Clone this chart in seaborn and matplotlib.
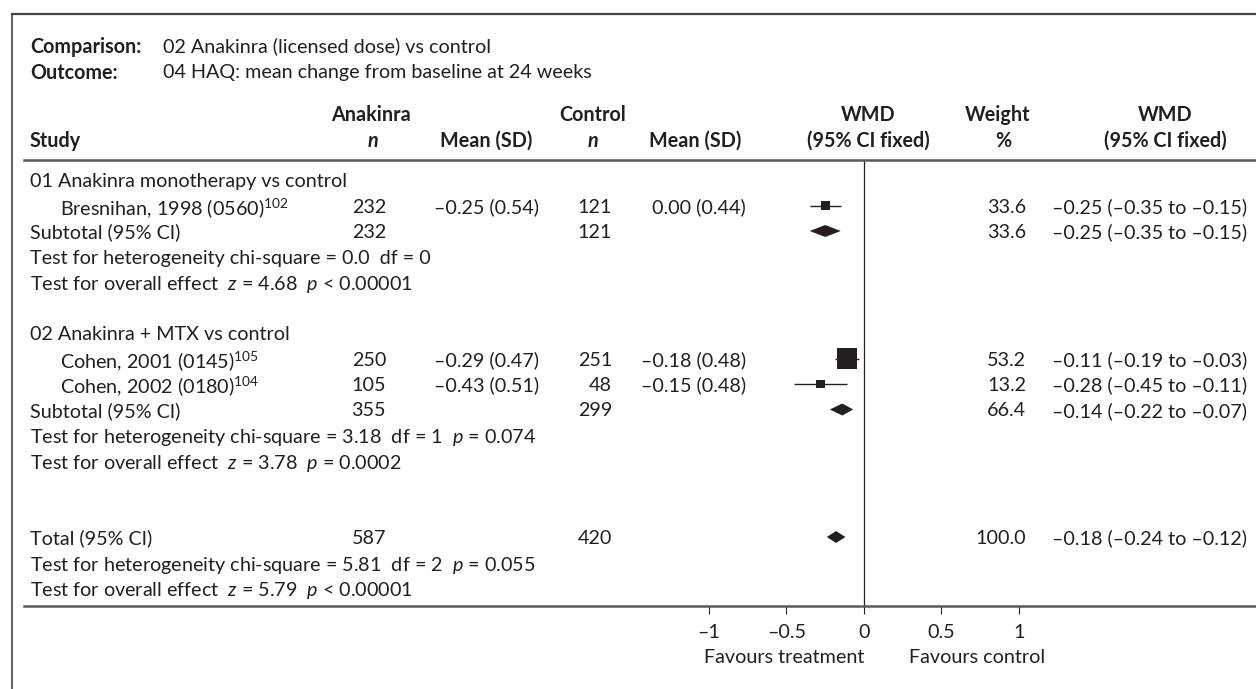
import matplotlib.pyplot as plt
import matplotlib.transforms as mtransforms
from matplotlib.lines import Line2D
import pandas as pd
import seaborn as sns

# ---- data -------------------------------------------------------------
comparison = "02 Anakinra (licensed dose) vs control"
outcome = "04 HAQ: mean change from baseline at 24 weeks"

groups = ["01 Anakinra monotherapy vs control", "02 Anakinra + MTX vs control"]
study_names = ["Bresnihan, 1998 (0560)", "Cohen, 2001 (0145)", "Cohen, 2002 (0180)"]
study_refs = ["102", "105", "104"]
study_group = [0, 1, 1]
n_anakinra = [232, 250, 105]
mean_anakinra = [-0.25, -0.29, -0.43]
sd_anakinra = [0.54, 0.47, 0.51]
n_control = [121, 251, 48]
mean_control = [0.00, -0.18, -0.15]
sd_control = [0.44, 0.48, 0.48]
weight = [33.6, 53.2, 13.2]
wmd = [-0.25, -0.11, -0.28]
wmd_lo = [-0.35, -0.19, -0.45]
wmd_hi = [-0.15, -0.03, -0.11]

sub_n_anakinra = [232, 355]
sub_n_control = [121, 299]
sub_weight = [33.6, 66.4]
sub_wmd = [-0.25, -0.14]
sub_lo = [-0.35, -0.22]
sub_hi = [-0.15, -0.07]
sub_het = ["chi-square = 0.0  df = 0", "chi-square = 3.18  df = 1  $p$ = 0.074"]
sub_effect = ["$z$ = 4.68  $p$ < 0.00001", "$z$ = 3.78  $p$ = 0.0002"]

total_n_anakinra = 587
total_n_control = 420
total_weight = 100.0
total_wmd = -0.18
total_lo = -0.24
total_hi = -0.12
total_het = "chi-square = 5.81  df = 2  $p$ = 0.055"
total_effect = "$z$ = 5.79  $p$ < 0.00001"

axis_ticks = [-1, -0.5, 0, 0.5, 1]

# ---- layout / style ---------------------------------------------------
W, H, DPI = 1256, 689, 100
ROW0, ROW_STEP = 180, 25.5
TOP_RULE, BOTTOM_RULE = 160, 606
ZERO_X, UNIT = 864, 155
RULE_X0 = 24
ink = "#231f20"
rule = "#5b5b5b"
fs = 14.2
box_area = [42, 225, 37]
diamond_half = 0.235

sns.set_theme(style="white")
plt.rcParams["font.family"] = ["Lato", "DejaVu Sans"]
plt.rcParams["mathtext.fontset"] = "custom"
plt.rcParams["mathtext.rm"] = "Lato"
plt.rcParams["mathtext.it"] = "Lato:italic"
plt.rcParams["mathtext.bf"] = "Lato:bold"


def num(v):
    return f"{v:.2f}".replace("-", "\u2013")


def ci(e, lo, hi):
    return f"{num(e)} ({num(lo)} to {num(hi)})"


fig = plt.figure(figsize=(W / DPI, H / DPI), dpi=DPI, facecolor="white")
fa = fig.add_axes([RULE_X0 / W, 1 - BOTTOM_RULE / H,
                   (W - RULE_X0) / W, (BOTTOM_RULE - TOP_RULE) / H])
fa.set_xlim((RULE_X0 - ZERO_X) / UNIT, (W - ZERO_X) / UNIT)
fa.set_ylim((BOTTOM_RULE - ROW0) / ROW_STEP, (TOP_RULE - ROW0) / ROW_STEP)
fa.patch.set_alpha(0)

trow = mtransforms.blended_transform_factory(fig.transFigure, fa.transData)


def cell(x, row, s, ha="left", **kw):
    fa.text(x / W, row, s, transform=trow, ha=ha, va="center_baseline",
            fontsize=fs, color=ink, clip_on=False, **kw)


def head(x, y, s, ha="left", **kw):
    fig.text(x / W, 1 - y / H, s, ha=ha, va="center_baseline",
             fontsize=fs, color=ink, **kw)


# frame
fig.add_artist(Line2D([12 / W, 1], [1 - 14 / H] * 2, color="#444444", lw=1.6))
fig.add_artist(Line2D([12 / W] * 2, [1 - 14 / H, 0], color="#444444", lw=1.2))

# header
head(30, 45, "Comparison:", fontweight="bold")
head(163, 45, comparison)
head(30, 71, "Outcome:", fontweight="bold")
head(163, 71, outcome)
head(371, 113, "Anakinra", ha="center", fontweight="bold")
head(593, 113, "Control", ha="center", fontweight="bold")
head(868, 113, "WMD", ha="center", fontweight="bold")
head(998, 113, "Weight", ha="center", fontweight="bold")
head(1165, 113, "WMD", ha="center", fontweight="bold")
head(30, 139, "Study", fontweight="bold")
head(373, 139, "n", ha="center", fontweight="bold", fontstyle="italic")
head(486, 139, "Mean (SD)", ha="center", fontweight="bold")
head(593, 139, "n", ha="center", fontweight="bold", fontstyle="italic")
head(695, 139, "Mean (SD)", ha="center", fontweight="bold")
head(868, 139, "(95% CI fixed)", ha="center", fontweight="bold")
head(1003, 139, "%", ha="center", fontweight="bold")
head(1165, 139, "(95% CI fixed)", ha="center", fontweight="bold")

# rows
layout = []
for g in range(len(groups)):
    layout.append(("group", g))
    layout += [("study", i) for i, sg in enumerate(study_group) if sg == g]
    layout += [("subtotal", g), ("het", g), ("effect", g), ("blank", None)]
layout += [("blank", None), ("total", None), ("total_het", None), ("total_effect", None)]

study_rows = [0] * len(study_names)
sub_rows = [0] * len(groups)
total_row = 0
for r, (kind, i) in enumerate(layout):
    if kind == "group":
        cell(30, r, groups[i])
    elif kind == "study":
        study_rows[i] = r
        cell(60, r, study_names[i] + r"$^{\mathrm{" + study_refs[i] + "}}$")
        cell(386, r, f"{n_anakinra[i]}", ha="right")
        cell(487, r, f"{num(mean_anakinra[i])} ({sd_anakinra[i]:.2f})", ha="center")
        cell(612, r, f"{n_control[i]}", ha="right")
        cell(746, r, f"{num(mean_control[i])} ({sd_control[i]:.2f})", ha="right")
        cell(1026, r, f"{weight[i]:.1f}", ha="right")
        cell(1052, r, ci(wmd[i], wmd_lo[i], wmd_hi[i]))
    elif kind == "subtotal":
        sub_rows[i] = r
        cell(30, r, "Subtotal (95% CI)")
        cell(386, r, f"{sub_n_anakinra[i]}", ha="right")
        cell(612, r, f"{sub_n_control[i]}", ha="right")
        cell(1026, r, f"{sub_weight[i]:.1f}", ha="right")
        cell(1052, r, ci(sub_wmd[i], sub_lo[i], sub_hi[i]))
    elif kind == "het":
        cell(30, r, "Test for heterogeneity " + sub_het[i])
    elif kind == "effect":
        cell(30, r, "Test for overall effect  " + sub_effect[i])
    elif kind == "total":
        total_row = r
        cell(30, r, "Total (95% CI)")
        cell(386, r, f"{total_n_anakinra}", ha="right")
        cell(612, r, f"{total_n_control}", ha="right")
        cell(1026, r, f"{total_weight:.1f}", ha="right")
        cell(1052, r, ci(total_wmd, total_lo, total_hi))
    elif kind == "total_het":
        cell(30, r, "Test for heterogeneity " + total_het)
    elif kind == "total_effect":
        cell(30, r, "Test for overall effect  " + total_effect)

# forest marks
fa.axvline(0, color=ink, lw=0.9, zorder=1)
fa.hlines(study_rows, wmd_lo, wmd_hi, color=ink, lw=1.0, zorder=2)
df = pd.DataFrame({"study": study_names, "wmd": wmd, "row": study_rows})
sns.scatterplot(data=df, x="wmd", y="row", size="study",
                sizes=dict(zip(study_names, box_area)), marker="s",
                color=ink, linewidth=0, legend=False, ax=fa, zorder=3)

diamonds = list(zip(sub_wmd, sub_lo, sub_hi, sub_rows)) + [(total_wmd, total_lo, total_hi, total_row)]
for est, lo, hi, r in diamonds:
    fa.fill([lo, est, hi, est], [r, r - diamond_half, r, r + diamond_half],
            color=ink, lw=0, zorder=3)

# axis
fa.set_xticks(axis_ticks)
fa.set_xticklabels([f"{t:g}".replace("-", "\u2013") for t in axis_ticks])
fa.set_yticks([])
fa.set_xlabel("")
fa.set_ylabel("")
fa.tick_params(axis="x", bottom=True, direction="out", length=6, width=0.8,
               color=ink, pad=7, labelsize=fs, labelcolor=ink)
for side in ["left", "right"]:
    fa.spines[side].set_visible(False)
for side in ["top", "bottom"]:
    fa.spines[side].set_color(rule)
    fa.spines[side].set_linewidth(1.8)

tfav = mtransforms.blended_transform_factory(fa.transData, fig.transFigure)
fa.text(0, 1 - 656 / H, "Favours treatment", transform=tfav, ha="right",
        va="center_baseline", fontsize=fs, color=ink)
fa.text(0.29, 1 - 656 / H, "Favours control", transform=tfav, ha="left",
        va="center_baseline", fontsize=fs, color=ink)

fig.savefig("out.png", dpi=DPI, facecolor="white")
